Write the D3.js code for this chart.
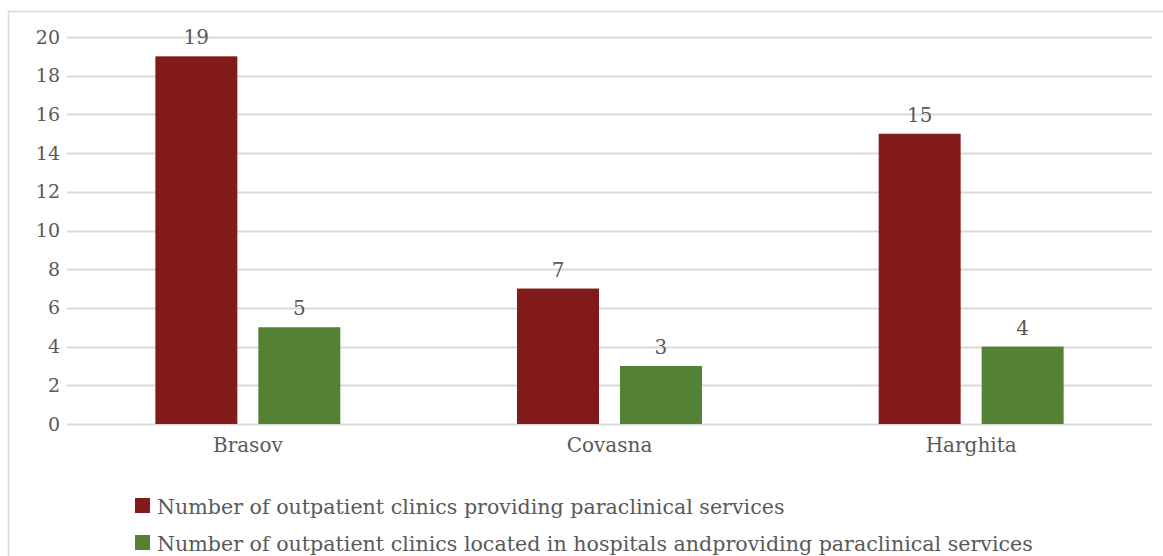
<!DOCTYPE html>
<html>
<head>
<meta charset="utf-8">
<script src="https://cdn.jsdelivr.net/npm/d3@7"></script>
<style>
  html, body { margin: 0; padding: 0; background: #fff; }
  svg { display: block; }
  text { font-family: "DejaVu Serif", "Liberation Serif", serif; fill: #595959; }
</style>
</head>
<body>
<svg id="chart" width="1163" height="556"></svg>
<script>
// Counties and the two series of clinic counts
const categories = ["Brasov", "Covasna", "Harghita"];
const seriesNames = [
  "Number of outpatient clinics providing paraclinical services",
  "Number of outpatient clinics located in hospitals andproviding paraclinical services"
];
const clinicsProviding = [19, 7, 15];
const clinicsInHospitals = [5, 3, 4];
const yTicks = [0, 2, 4, 6, 8, 10, 12, 14, 16, 18, 20];
const seriesColors = ["#821a1a", "#548235"];

const series = [clinicsProviding, clinicsInHospitals];

const svg = d3.select("#chart");
const W = 1163, H = 556;

// chart frame
svg.append("rect")
  .attr("x", 8.5).attr("y", 11.5)
  .attr("width", W + 10).attr("height", H + 10)
  .attr("fill", "#fff").attr("stroke", "#d9d9d9").attr("stroke-width", 1.5);

const plot = { left: 67, right: 1152, top: 37, bottom: 424 };

const x = d3.scaleBand().domain(categories).range([plot.left, plot.right]);
const x1 = d3.scaleBand().domain(d3.range(series.length))
  .range([0, x.bandwidth()]).paddingInner(0.204).paddingOuter(0.858);
const y = d3.scaleLinear().domain([0, 20]).range([plot.bottom, plot.top]);

// gridlines
svg.append("g").selectAll("line").data(yTicks).join("line")
  .attr("x1", plot.left).attr("x2", plot.right)
  .attr("y1", d => Math.round(y(d)) + 0.5).attr("y2", d => Math.round(y(d)) + 0.5)
  .attr("stroke", "#d9d9d9").attr("stroke-width", 2);

// y axis labels
const yAxis = d3.axisLeft(y).tickValues(yTicks).tickSize(0).tickPadding(7);
const yg = svg.append("g").attr("transform", `translate(${plot.left},0)`).call(yAxis);
yg.select(".domain").remove();
yg.selectAll("text").style("font-size", "19px").attr("fill", "#595959")
  .style("font-family", "'DejaVu Serif', serif");

// x axis labels
const xAxis = d3.axisBottom(x).tickSize(0).tickPadding(14);
const xg = svg.append("g").attr("transform", `translate(0,${plot.bottom})`).call(xAxis);
xg.select(".domain").remove();
xg.selectAll("text").style("font-size", "20px").attr("fill", "#595959")
  .style("font-family", "'DejaVu Serif', serif");

// bars and value labels
series.forEach((vals, si) => {
  const g = svg.append("g");
  g.selectAll("rect").data(vals).join("rect")
    .attr("x", (d, i) => x(categories[i]) + x1(si))
    .attr("width", x1.bandwidth())
    .attr("y", d => y(d))
    .attr("height", d => y(0) - y(d))
    .attr("fill", seriesColors[si]);
  g.selectAll("text").data(vals).join("text")
    .attr("x", (d, i) => x(categories[i]) + x1(si) + x1.bandwidth() / 2)
    .attr("y", d => y(d) - 12)
    .attr("text-anchor", "middle")
    .style("font-size", "20px")
    .text(d => d);
});

// legend
const legend = svg.append("g");
seriesNames.forEach((name, i) => {
  const ly = 498 + i * 37;
  legend.append("rect").attr("x", 135).attr("y", ly)
    .attr("width", 15).attr("height", 15).attr("fill", seriesColors[i]);
  legend.append("text").attr("x", 157).attr("y", ly + 16)
    .style("font-size", "20.6px").text(name);
});
</script>
</body>
</html>
